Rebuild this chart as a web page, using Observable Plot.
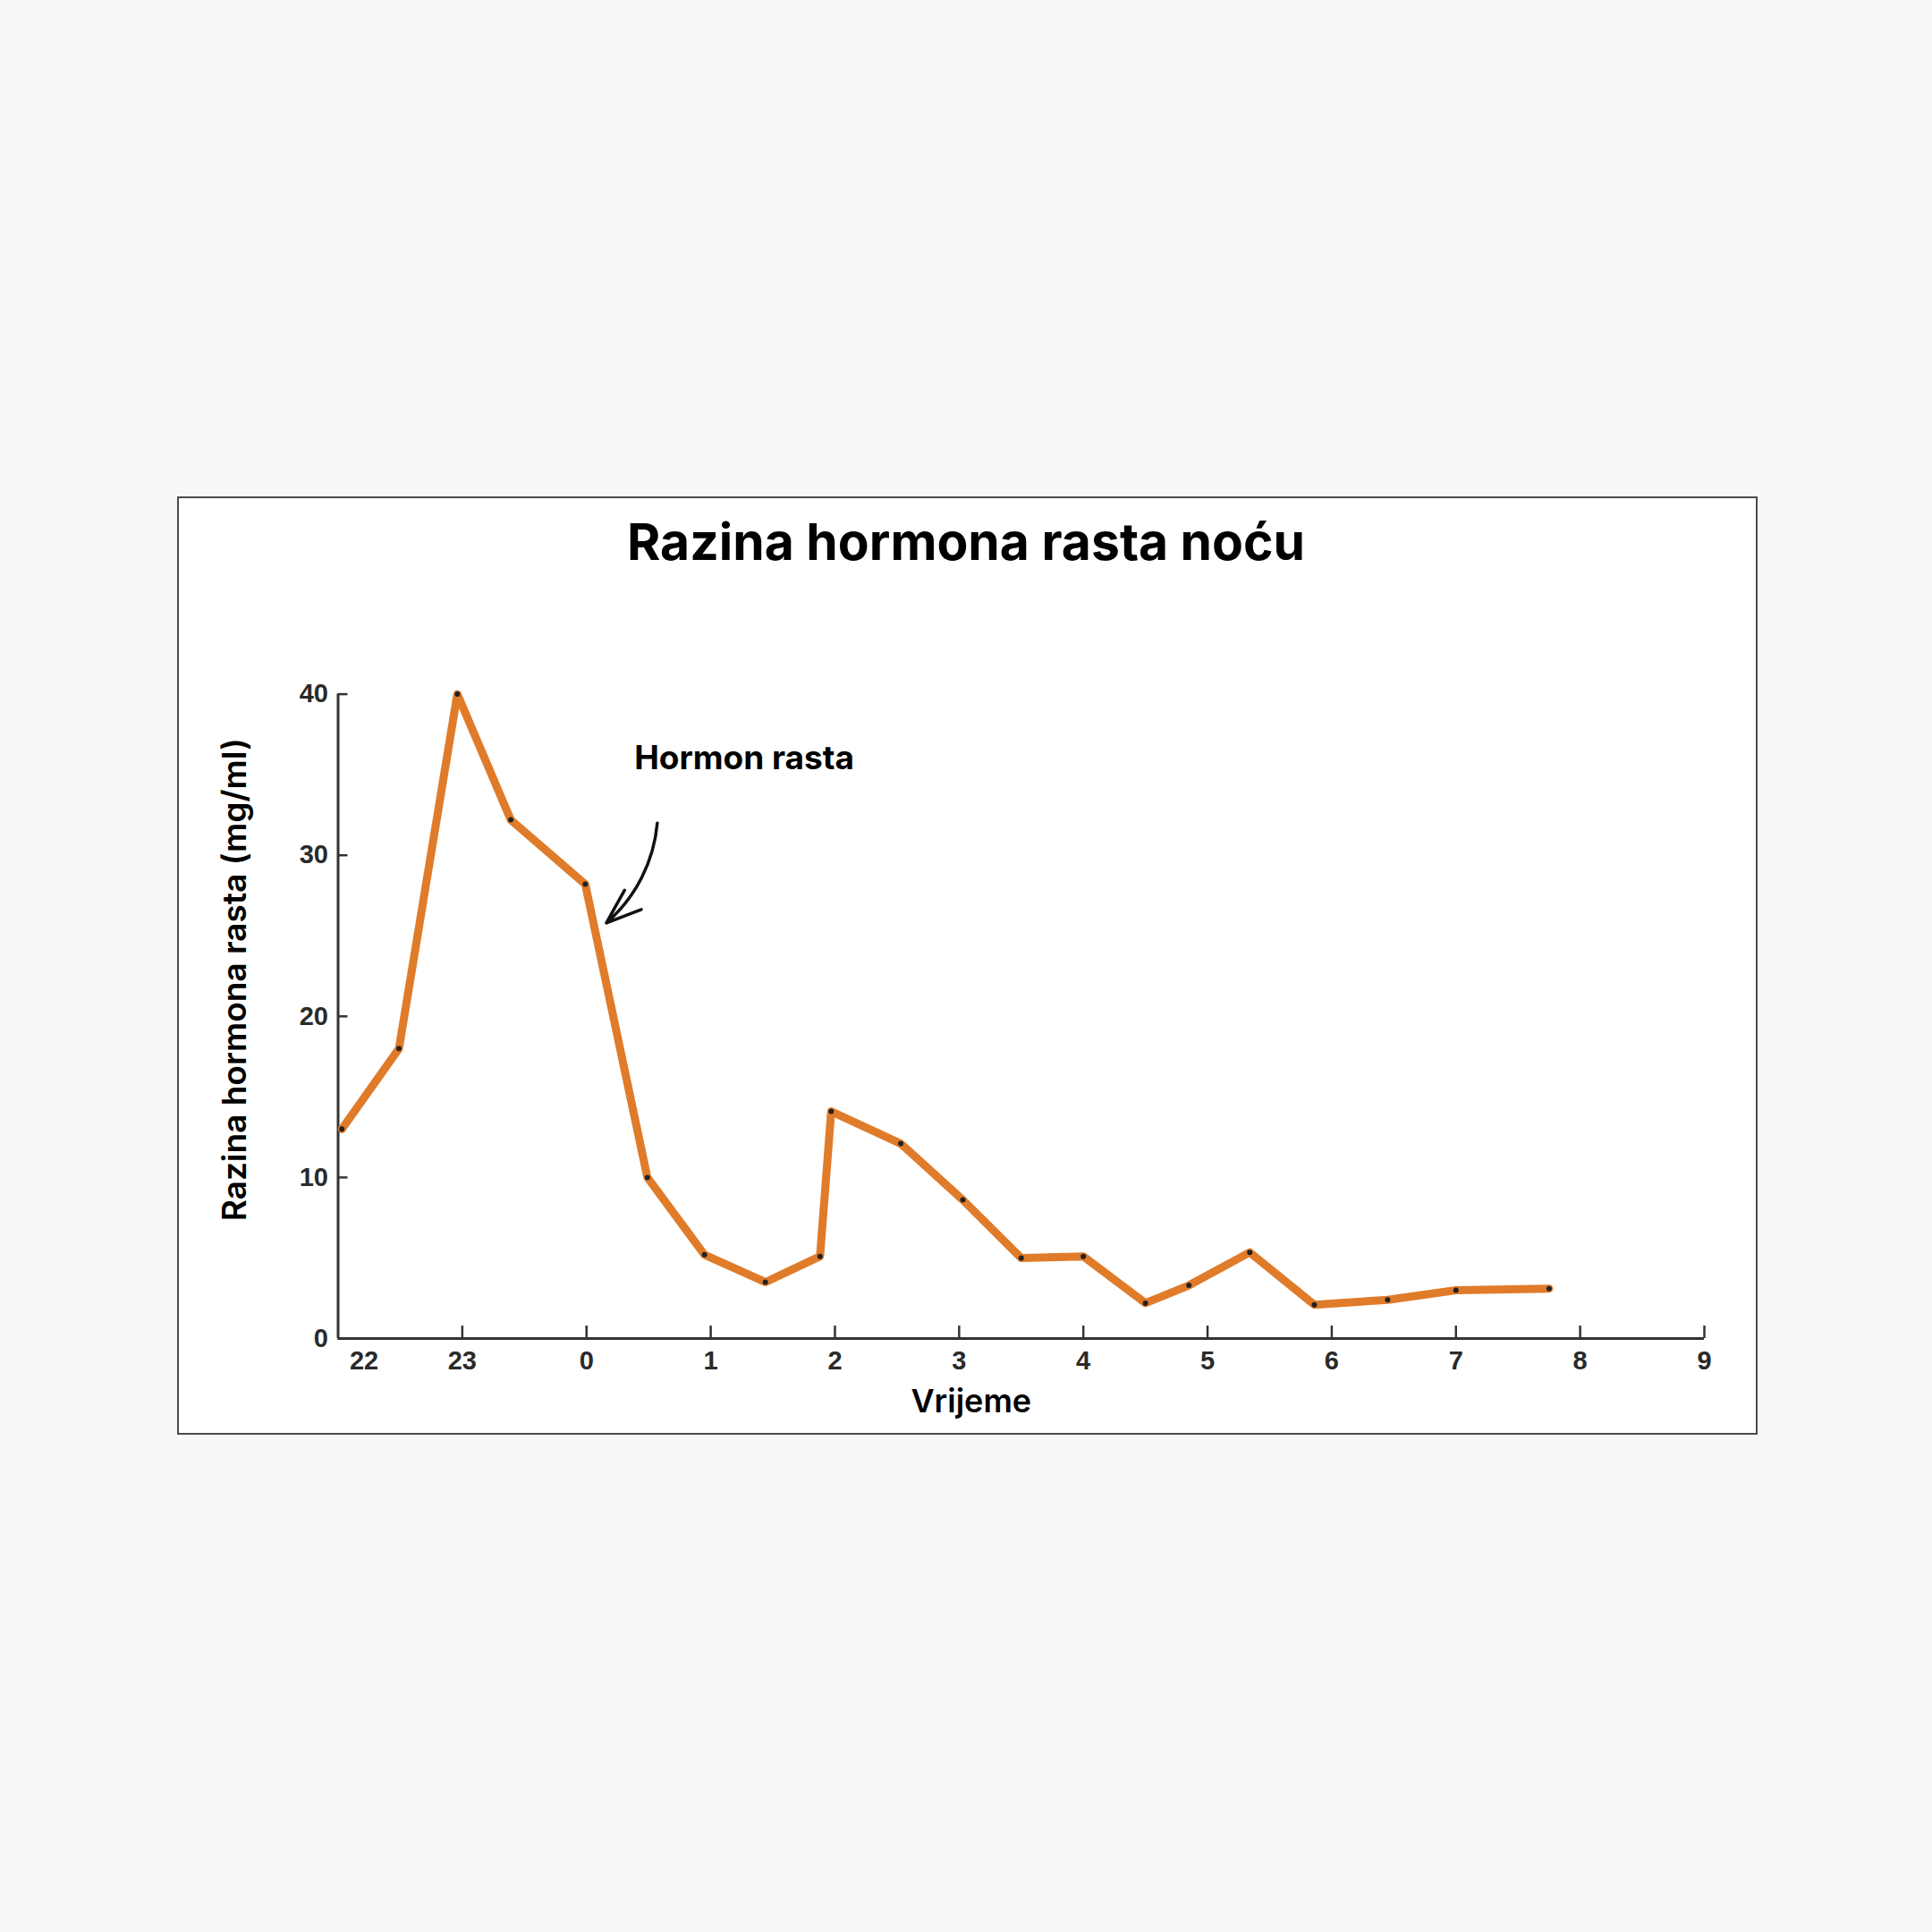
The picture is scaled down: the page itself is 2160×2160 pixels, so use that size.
<!DOCTYPE html>
<html><head><meta charset="utf-8">
<script src="https://cdn.jsdelivr.net/npm/d3@7"></script>
<script src="https://cdn.jsdelivr.net/npm/@observablehq/plot@0.6"></script>
<style>
body{margin:0;background:#f8f8f8;}
#page{position:relative;width:2160px;height:2160px;background:#f8f8f8;font-family:Inter,"Open Sans",sans-serif;overflow:hidden;}
#box{position:absolute;left:198px;top:555px;width:1763px;height:1045px;border:2px solid #4a4a4a;background:#fff;}
#title{position:absolute;left:0;width:2160px;top:572px;text-align:center;font-size:57px;line-height:68px;font-weight:700;color:#000;}
#chart{position:absolute;left:0;top:0;}
</style></head><body>
<div id="page"><div id="box"></div><div id="title">Razina hormona rasta noću</div><div id="chart"></div></div>
<script>
// hours elapsed since 22:00
const hours  = [0.03, 0.49, 0.96, 1.39, 1.99, 2.49, 2.95, 3.44, 3.88, 3.97, 4.53, 5.03, 5.5, 6.0, 6.5, 6.85, 7.34, 7.86, 8.45, 9.0, 9.75];
const values = [13, 18, 40, 32.2, 28.2, 10, 5.2, 3.5, 5.1, 14.1, 12.1, 8.6, 5.0, 5.1, 2.2, 3.3, 5.35, 2.1, 2.4, 3.0, 3.1];
const xTicks = [0,1,2,3,4,5,6,7,8,9,10,11];
const xTickLabels = ["22","23","0","1","2","3","4","5","6","7","8","9"];
const yTicks = [0,10,20,30,40];
const annotationText = ["Hormon rasta"];
const annotationX = [3.27];
const annotationY = [36];
const arrowFrom = [2.57, 32.0];
const arrowTo = [2.16, 25.8];

const data = hours.map((h, i) => ({h, v: values[i]}));
const tickFont = {fontSize: 29, fontWeight: "bold", fill: "#2a2a2a", fontFamily: "Liberation Sans, Arial, sans-serif"};

const chart = Plot.plot({
  width: 2160, height: 2160,
  marginLeft: 377.5, marginRight: 255, marginTop: 775.6, marginBottom: 664,
  style: {background: "transparent", fontFamily: "Inter, sans-serif", overflow: "visible"},
  x: {domain: [0, 11]},
  y: {domain: [0, 40]},
  marks: [
    Plot.ruleX([0], {stroke: "#333", strokeWidth: 3}),
    Plot.ruleY([0], {stroke: "#333", strokeWidth: 3}),
    Plot.axisY(yTicks, {tickSize: -11, tickPadding: 22, stroke: "#333", strokeWidth: 2.5, label: null, ...tickFont}),
    Plot.axisX(xTicks.slice(1), {tickSize: -14, tickPadding: 28, stroke: "#333", strokeWidth: 2.5, tickFormat: i => xTickLabels[i], label: null, ...tickFont}),
    Plot.axisX([xTicks[0]], {tickSize: 0, tickPadding: 14, dx: 29, tickFormat: i => xTickLabels[i], label: null, ...tickFont}),
    Plot.line(data, {x: "h", y: "v", stroke: "#e07b2a", strokeWidth: 9, strokeLinejoin: "round", strokeLinecap: "round"}),
    Plot.dot(data, {x: "h", y: "v", r: 3, fill: "#222"}),
    Plot.text(annotationText, {x: annotationX, y: annotationY, text: d => d, fontSize: 37, fontWeight: 700, fill: "#000"}),
    Plot.arrow([0], {x1: () => arrowFrom[0], y1: () => arrowFrom[1], x2: () => arrowTo[0], y2: () => arrowTo[1], bend: 22, stroke: "#111", strokeWidth: 3.5, headLength: 24, headAngle: 40}),
    Plot.text(["Razina hormona rasta (mg/ml)"], {frameAnchor: "left", textAnchor: "middle", rotate: -90, dx: -115, dy: -41, text: d => d, fontSize: 37, fontWeight: 600, fill: "#000"}),
    Plot.text(["Vrijeme"], {frameAnchor: "bottom", textAnchor: "middle", dx: -56, dy: 82, text: d => d, fontSize: 36, fontWeight: 600, fill: "#000"})
  ]
});
document.getElementById("chart").appendChild(chart);
</script>
</body></html>
